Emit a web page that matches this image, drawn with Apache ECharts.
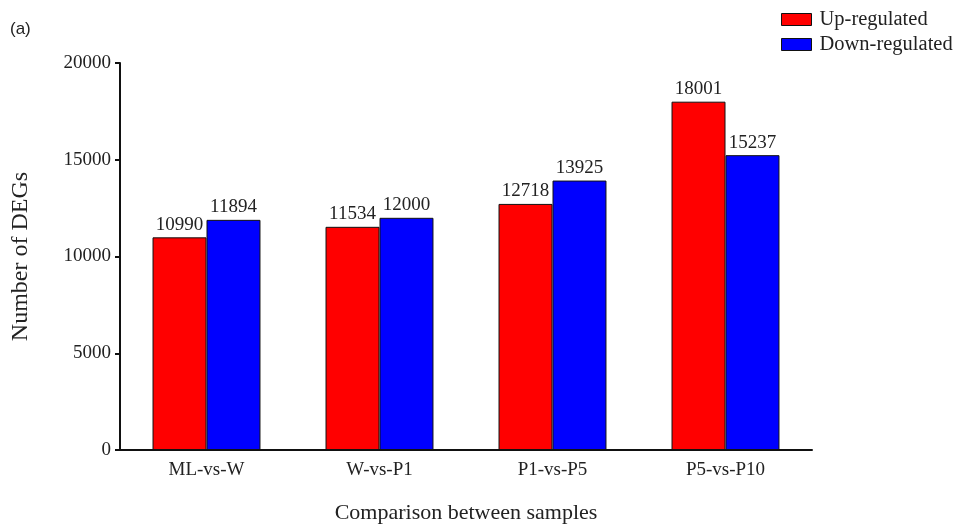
<!DOCTYPE html>
<html>
<head>
<meta charset="utf-8">
<script src="https://cdn.jsdelivr.net/npm/echarts@6/dist/echarts.min.js"></script>
<style>html,body{margin:0;padding:0;background:#fff;}#c{width:957px;height:526px;}</style>
</head>
<body>
<div id="c"></div>
<script>
const categories = ['ML-vs-W', 'W-vs-P1', 'P1-vs-P5', 'P5-vs-P10'];
const upRegulated = [10990, 11534, 12718, 18001];
const downRegulated = [11894, 12000, 13925, 15237];
const seriesNames = ['Up-regulated', 'Down-regulated'];
const yTicks = { min: 0, max: 20000, interval: 5000 };

const serif = '"Liberation Serif", "Times New Roman", serif';
const chart = echarts.init(document.getElementById('c'), null, { renderer: 'canvas' });
const labelStyle = { show: true, position: 'top', distance: 3, fontFamily: serif, fontSize: 19, color: '#222' };
chart.setOption({
  animation: false,
  backgroundColor: '#fff',
  graphic: [{ type: 'text', left: 10, top: 21, style: { text: '(a)', font: '17px "Liberation Sans", Arial, sans-serif', fill: '#222' } }],
  legend: {
    orient: 'vertical', left: 776, top: 4, itemWidth: 30, itemHeight: 12, itemGap: 4,
    icon: 'rect',
    itemStyle: { borderColor: '#111', borderWidth: 1 },
    textStyle: { fontFamily: serif, fontSize: 20.5, color: '#222', padding: [0, 0, 0, 3] },
    data: seriesNames
  },
  grid: { left: 120, right: 145, top: 63, bottom: 76, containLabel: false, outerBoundsMode: 'none' },
  xAxis: {
    type: 'category', data: categories,
    name: 'Comparison between samples', nameLocation: 'middle', nameGap: 52,
    nameTextStyle: { fontFamily: serif, fontSize: 22, color: '#222' },
    axisLine: { lineStyle: { color: '#111', width: 2 } },
    axisTick: { alignWithLabel: true, length: 8, lineStyle: { color: '#111', width: 2 } },
    axisLabel: { fontFamily: serif, fontSize: 19, color: '#222', margin: 11 }
  },
  yAxis: {
    type: 'value', min: yTicks.min, max: yTicks.max, interval: yTicks.interval,
    name: 'Number of DEGs', nameLocation: 'middle', nameGap: 87,
    nameTextStyle: { fontFamily: serif, fontSize: 24, color: '#222' },
    axisLine: { show: true, lineStyle: { color: '#111', width: 2 } },
    axisTick: { show: true, length: 5, lineStyle: { color: '#111', width: 2 } },
    axisLabel: { fontFamily: serif, fontSize: 19, color: '#222', margin: 9, formatter: v => String(v) },
    splitLine: { show: false }
  },
  series: [
    { name: seriesNames[0], type: 'bar', data: upRegulated, barGap: '0%', barCategoryGap: '37.6%',
      itemStyle: { color: '#ff0000', borderColor: '#111', borderWidth: 1 }, label: labelStyle },
    { name: seriesNames[1], type: 'bar', data: downRegulated, barGap: '0%', barCategoryGap: '37.6%',
      itemStyle: { color: '#0000ff', borderColor: '#111', borderWidth: 1 }, label: labelStyle }
  ]
});
</script>
</body>
</html>
